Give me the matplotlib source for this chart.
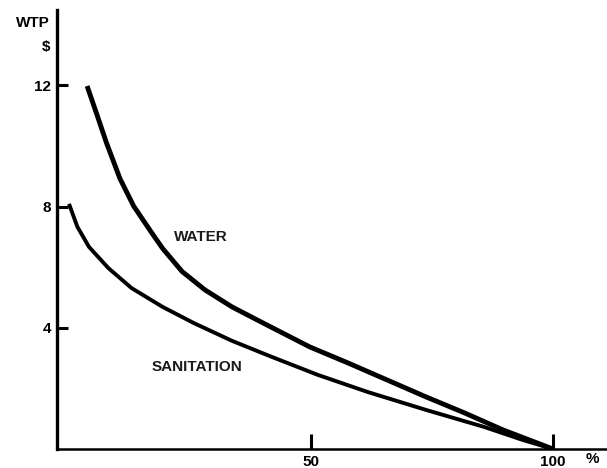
import matplotlib
matplotlib.use("Agg")
import matplotlib.pyplot as plt

# willingness to pay curves (% of households, $)
water_x = [3.74, 5.74, 7.75, 10.54, 13.35, 16.94, 19.34, 23.35, 28.1, 33.68, 40.08,
           49.73, 57.64, 65.7, 73.76, 81.74, 89.67, 100]
water_y = [11.98, 11.05, 10.1, 8.92, 8.02, 7.17, 6.62, 5.86, 5.25, 4.69, 4.16,
           3.37, 2.84, 2.28, 1.72, 1.19, 0.63, 0.0]
san_x = [0.0, 1.74, 4.13, 8.14, 12.93, 19.34, 25.74, 33.68, 41.74, 51.34, 61.74,
         73.76, 85.74, 93.72, 100]
san_y = [8.09, 7.33, 6.67, 5.97, 5.31, 4.69, 4.16, 3.57, 3.05, 2.45, 1.88,
         1.29, 0.73, 0.3, 0.0]

y_ticks = [4, 8, 12]
x_ticks = [50, 100]

plt.rcParams['font.family'] = ['Liberation Sans', 'DejaVu Sans']
plt.rcParams['font.weight'] = 'bold'

W, H = 607, 468
fig = plt.figure(figsize=(W / 100, H / 100), dpi=100)
ax = fig.add_axes([57 / W, (H - 449) / H, (W - 57) / W, (449 - 10) / H])

ax.plot(water_x, water_y, color="black", lw=3.5, solid_capstyle="butt", solid_joinstyle="round")
ax.plot(san_x, san_y, color="black", lw=2.8, solid_capstyle="butt", solid_joinstyle="round")

# y axis sits a little left of 0 %, as in the drawing
ax.set_xlim((57 - 69) / 4.84, (W - 69) / 4.84)
ax.set_ylim(0, (449 - 10) / 30.3)

for s in ["top", "right"]:
    ax.spines[s].set_visible(False)
ax.spines["left"].set_linewidth(2.4)
ax.spines["bottom"].set_linewidth(1.8)

ax.set_yticks(y_ticks)
ax.set_yticklabels([str(v) for v in y_ticks], fontsize=11, fontweight="bold")
ax.set_xticks(x_ticks)
ax.set_xticklabels([str(v) for v in x_ticks], fontsize=11, fontweight="bold")
ax.tick_params(axis="y", direction="in", length=8, width=2.2, pad=4)
ax.tick_params(axis="x", direction="in", length=11, width=2.2, pad=4.5)

ax.text(21.7, 7.0, "WATER", fontsize=11, fontweight="bold", color="#1a1a1a", va="center")
ax.text(17.15, 2.71, "SANITATION", fontsize=11, fontweight="bold", color="#1a1a1a", va="center")

fig.text(50 / W, 1 - 23 / H, "WTP", fontsize=11, fontweight="bold", ha="right", va="center")
fig.text(50 / W, 1 - 47 / H, "$", fontsize=11, fontweight="bold", ha="right", va="center")
fig.text(592 / W, 1 - 459 / H, "%", fontsize=11, fontweight="bold", ha="center", va="center")

fig.savefig("out.png", dpi=100)
